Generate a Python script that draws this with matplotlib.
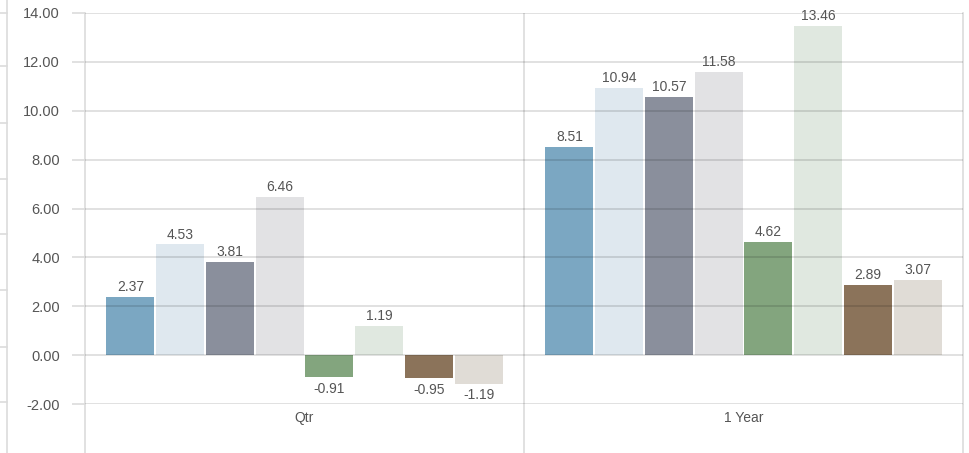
import numpy as np
import matplotlib
matplotlib.use("Agg")
import matplotlib.pyplot as plt
from matplotlib.lines import Line2D

plt.rcParams["font.family"] = ["Liberation Sans", "DejaVu Sans"]

# donnees
categories = ["Qtr", "1 Year"]
series_values = [
    [2.37, 8.51],
    [4.53, 10.94],
    [3.81, 10.57],
    [6.46, 11.58],
    [-0.91, 4.62],
    [1.19, 13.46],
    [-0.95, 2.89],
    [-1.19, 3.07],
]
colors = ["#7ba7c2", "#dfe8ef", "#8a8f9c", "#e2e2e4",
          "#83a57e", "#e0e8e0", "#8b735a", "#e0dcd6"]
y_ticks = [-2, 0, 2, 4, 6, 8, 10, 12, 14]

W, H = 969, 453
fig = plt.figure(figsize=(W / 100, H / 100), dpi=100)
ax = fig.add_axes([85 / W, 1 - 404 / H, (963 - 85) / W, (404 - 13) / H])

n = len(series_values)
slot = 0.1133
bw = 0.109
centers = np.arange(len(categories)) + 0.5
for i, vals in enumerate(series_values):
    xs = centers + (i - (n - 1) / 2) * slot
    bars = ax.bar(xs, vals, width=bw, color=colors[i], zorder=1)
    for x, v in zip(xs, vals):
        if v >= 0:
            ax.annotate(f"{v:.2f}", (x, v), xytext=(0, 2), textcoords="offset points",
                        ha="center", va="bottom", fontsize=10, color="#555555")
        else:
            ax.annotate(f"{v:.2f}", (x, v), xytext=(0, -3), textcoords="offset points",
                        ha="center", va="top", fontsize=10, color="#555555")

ax.set_xlim(0, len(categories))
ax.set_ylim(-2, 14)
ax.set_yticks(y_ticks)
ax.set_yticklabels([f"{t:.2f}" for t in y_ticks])
ax.tick_params(axis="y", length=9.5, width=1.2, color="#dcdcdc", pad=8.6,
               labelsize=10.5, labelcolor="#555555")

# separateurs de categories + libelles
ax.set_xticks([0, 1, 2])
ax.set_xticklabels(["", "", ""])
ax.tick_params(axis="x", which="major", length=36, width=1.2, color="#dcdcdc")
ax.set_xticks(centers, minor=True)
ax.set_xticklabels(categories, minor=True)
ax.tick_params(axis="x", which="minor", length=0, pad=5, labelsize=10, labelcolor="#555555")

ax.grid(axis="y", color="black", alpha=0.12, linewidth=1.4, zorder=3)
ax.set_axisbelow(False)
ax.axvline(1, color="#dcdcdc", linewidth=1.2, zorder=0)
for s in ["left", "right"]:
    ax.spines[s].set_color("#dcdcdc")
    ax.spines[s].set_linewidth(1.2)
for s in ["top", "bottom"]:
    ax.spines[s].set_visible(False)

# reste d'un autre graphique a gauche
fig.add_artist(Line2D([7 / W, 7 / W], [0, 1], color="#dcdcdc", linewidth=1.2))
for yp in [13, 66, 123, 179, 234, 290, 347, 402]:
    fig.add_artist(Line2D([0, 7 / W], [1 - yp / H, 1 - yp / H], color="#dcdcdc", linewidth=1.2))

fig.savefig("out.png", dpi=100)
